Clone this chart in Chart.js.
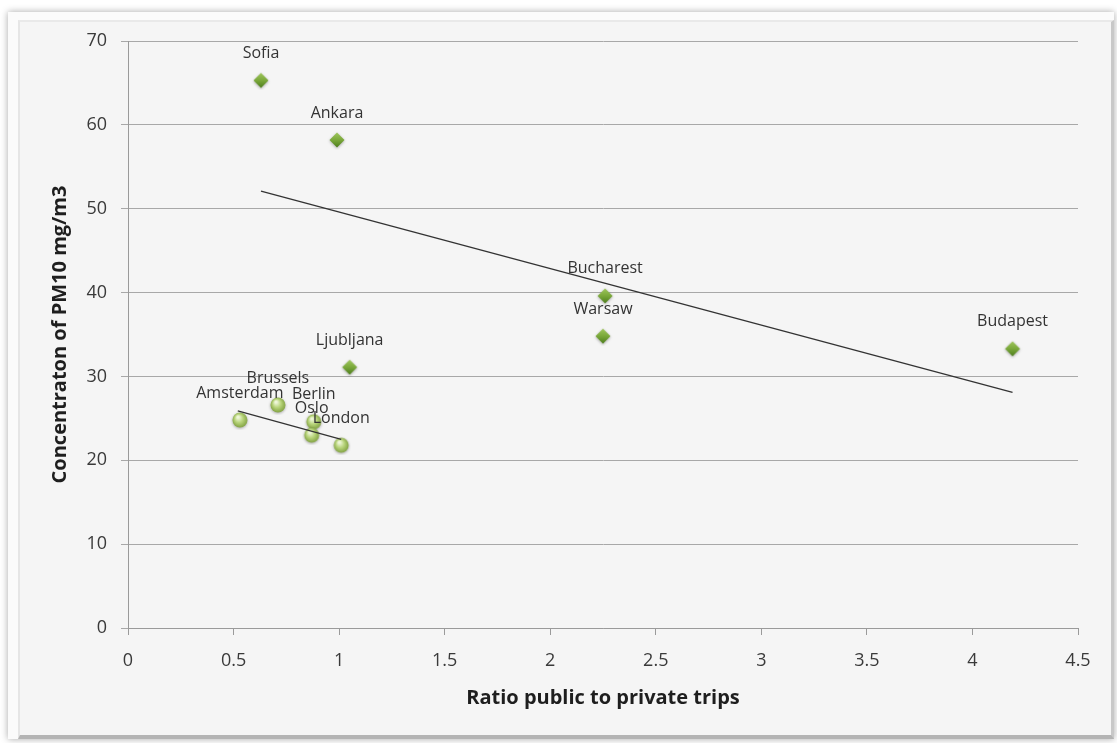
<!DOCTYPE html>
<html>
<head>
<meta charset="utf-8">
<script src="https://cdn.jsdelivr.net/npm/chart.js@4"></script>
<style>
  html, body { margin: 0; padding: 0; background: #ffffff; }
  body { width: 1117px; height: 743px; position: relative; overflow: hidden; font-family: "Open Sans", sans-serif; }
  .frame {
    position: absolute; left: 8px; top: 12px; width: 1106px; height: 727px;
    background: #fbfbfb; box-shadow: 0 0 7px rgba(0,0,0,0.35);
  }
  .panel {
    position: absolute; left: 18px; top: 20px; width: 1091px; height: 713px;
    background: #f5f5f5;
    border-left: 2px solid #e6e6e6; border-top: 2px solid #e9e9e9;
    border-right: 3px solid #c8c8c8; border-bottom: 4px solid #b4b4b4;
  }
  #chart { position: absolute; left: 0; top: 0; }
</style>
</head>
<body>
<div class="frame"></div>
<div class="panel"></div>
<canvas id="chart" width="1117" height="743"></canvas>
<script>
// cities with diamond markers
const diamondCities = ['Sofia', 'Ankara', 'Bucharest', 'Warsaw', 'Budapest', 'Ljubljana'];
const diamondX = [0.63, 0.99, 2.26, 2.25, 4.19, 1.05];
const diamondY = [65.3, 58.2, 39.6, 34.8, 33.3, 31.1];

// cities with round markers
const circleCities = ['Amsterdam', 'Brussels', 'Berlin', 'Oslo', 'London'];
const circleX = [0.53, 0.71, 0.88, 0.87, 1.01];
const circleY = [24.8, 26.6, 24.6, 23.0, 21.8];

// linear trend lines (start and end)
const diamondTrendX = [0.63, 4.19];
const diamondTrendY = [52.1, 28.1];
const circleTrendX = [0.52, 1.01];
const circleTrendY = [25.9, 22.5];

const xTicks = [0, 0.5, 1, 1.5, 2, 2.5, 3, 3.5, 4, 4.5];
const yTicks = [0, 10, 20, 30, 40, 50, 60, 70];

function toPoints(xs, ys) {
    return xs.map((x, i) => ({ x: x, y: ys[i] }));
}

function makeDiamond() {
    const c = document.createElement('canvas');
    c.width = 20; c.height = 20;
    const g = c.getContext('2d');
    g.shadowColor = 'rgba(0,0,0,0.3)';
    g.shadowBlur = 3;
    g.shadowOffsetY = 1;
    const grad = g.createLinearGradient(0, 3, 0, 17);
    grad.addColorStop(0, '#9cc45a');
    grad.addColorStop(0.5, '#7aa83a');
    grad.addColorStop(1, '#4f7f1e');
    g.fillStyle = grad;
    g.beginPath();
    g.moveTo(10, 2.5); g.lineTo(17.5, 10); g.lineTo(10, 17.5); g.lineTo(2.5, 10);
    g.closePath();
    g.fill();
    return c;
}

function makeSphere() {
    const c = document.createElement('canvas');
    c.width = 20; c.height = 20;
    const g = c.getContext('2d');
    g.shadowColor = 'rgba(0,0,0,0.3)';
    g.shadowBlur = 3;
    g.shadowOffsetY = 1;
    const grad = g.createRadialGradient(8, 7, 1, 10, 10, 8);
    grad.addColorStop(0, '#eef6d8');
    grad.addColorStop(0.45, '#b9d57c');
    grad.addColorStop(1, '#7e9f3e');
    g.fillStyle = grad;
    g.beginPath();
    g.arc(10, 10, 7.5, 0, Math.PI * 2);
    g.fill();
    return c;
}

const pointLabels = {
    id: 'pointLabels',
    afterDatasetsDraw(chart) {
        const ctx = chart.ctx;
        ctx.save();
        ctx.font = '16px "Open Sans", sans-serif';
        ctx.fillStyle = '#333333';
        ctx.textAlign = 'center';
        ctx.textBaseline = 'middle';
        chart.data.datasets.forEach((ds, di) => {
            if (!ds.cityNames) return;
            const meta = chart.getDatasetMeta(di);
            meta.data.forEach((pt, i) => {
                ctx.fillText(ds.cityNames[i], pt.x, pt.y - 27);
            });
        });
        ctx.restore();
    }
};

const ctx = document.getElementById('chart').getContext('2d');
new Chart(ctx, {
    type: 'scatter',
    data: {
        datasets: [
            {
                label: 'trend1',
                type: 'line',
                data: toPoints(diamondTrendX, diamondTrendY),
                borderColor: '#333333',
                borderWidth: 1.3,
                pointRadius: 0,
                fill: false
            },
            {
                label: 'trend2',
                type: 'line',
                data: toPoints(circleTrendX, circleTrendY),
                borderColor: '#333333',
                borderWidth: 1.3,
                pointRadius: 0,
                fill: false
            },
            {
                label: 'diamonds',
                data: toPoints(diamondX, diamondY),
                cityNames: diamondCities,
                pointStyle: makeDiamond()
            },
            {
                label: 'circles',
                data: toPoints(circleX, circleY),
                cityNames: circleCities,
                pointStyle: makeSphere()
            }
        ]
    },
    options: {
        responsive: false,
        animation: false,
        layout: { padding: { left: 0, right: 39, top: 41, bottom: 0 } },
        plugins: {
            legend: { display: false },
            tooltip: { enabled: false }
        },
        scales: {
            x: {
                type: 'linear',
                min: 0,
                max: 4.5,
                afterBuildTicks: (scale) => { scale.ticks = xTicks.map(v => ({ value: v })); },
                afterFit: (scale) => { scale.height = 115; },
                grid: { drawOnChartArea: false, drawTicks: true, tickLength: 7, color: '#9a9a9a' },
                border: { display: true, color: '#9a9a9a', width: 1 },
                ticks: {
                    color: '#3a3a3a',
                    font: { family: '"Open Sans", sans-serif', size: 18 },
                    padding: 15,
                    maxRotation: 0,
                    callback: (v) => String(v)
                },
                title: {
                    display: true,
                    text: 'Ratio public to private trips',
                    color: '#1e1e1e',
                    font: { family: '"Open Sans", sans-serif', size: 20, weight: 'bold' },
                    padding: { top: 10, bottom: 33 }
                }
            },
            y: {
                type: 'linear',
                min: 0,
                max: 70,
                afterBuildTicks: (scale) => { scale.ticks = yTicks.map(v => ({ value: v })); },
                afterFit: (scale) => { scale.width = 128; },
                grid: { drawTicks: true, tickLength: 7, color: '#a8a8a8' },
                border: { display: true, color: '#9a9a9a', width: 1 },
                ticks: {
                    color: '#3a3a3a',
                    font: { family: '"Open Sans", sans-serif', size: 18 },
                    padding: 14,
                    callback: (v) => String(v)
                },
                title: {
                    display: true,
                    text: 'Concentraton of PM10 mg/m3',
                    color: '#1e1e1e',
                    font: { family: '"Open Sans", sans-serif', size: 20, weight: 'bold' },
                    padding: { top: 48 }
                }
            }
        }
    },
    plugins: [pointLabels]
});
</script>
</body>
</html>
